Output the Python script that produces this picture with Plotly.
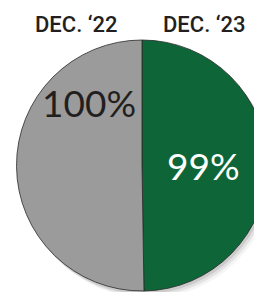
import plotly.graph_objects as go

# slice order: plotly puts the first slice on the right of 12 o'clock
labels = ["DEC. \u201823", "DEC. \u201822"]
values = [99, 100]
colors = ["#0e6638", "#9b9b9b"]
text_colors = ["#ffffff", "#231f20"]

W, H = 262, 292
OFF = 8  # page body margin offset
cx, cy, r = 142 - OFF, 165.5 - OFF, 125.5  # pie centre/radius in figure px (from top-left)

fig = go.Figure()
fig.add_trace(go.Pie(
    labels=labels, values=values, sort=False, direction="clockwise",
    rotation=0, marker=dict(colors=colors, line=dict(color="#2a2a2a", width=0.8)),
    textinfo="none", hoverinfo="label+value", showlegend=False,
    domain=dict(x=[(cx - r) / W, min(1, (cx + r) / W)], y=[(H - cy - r) / H, (H - cy + r) / H]),
))

# soft drop shadow behind the pie
shapes = []
for dx, dy, a in [(2, 3, 0.10), (4, 5, 0.07), (6, 7, 0.04)]:
    shapes.append(dict(type="circle", layer="below", xref="paper", yref="paper",
                       xsizemode="pixel", ysizemode="pixel",
                       xanchor=cx / W, yanchor=(H - cy) / H,
                       x0=-r + dx, x1=r + dx, y0=-r - dy, y1=r - dy,
                       fillcolor=f"rgba(0,0,0,{a})", line=dict(width=0)))

def px(x):
    return (x - OFF) / W

def py(y):
    return (H - (y - OFF)) / H

annotations = [
    dict(text=labels[1], x=px(76), y=py(24)),
    dict(text=labels[0], x=px(204), y=py(24)),
]
for a in annotations:
    a.update(xref="paper", yref="paper", showarrow=False, xanchor="center", yanchor="middle",
             font=dict(family="Roboto", size=22, color="#231f20", weight=500))

annotations.append(dict(text=f"{values[1]}%", x=px(89), y=py(103),
                        font=dict(family="Lato", size=37, color=text_colors[1])))
annotations.append(dict(text=f"{values[0]}%", x=px(203), y=py(166),
                        font=dict(family="Lato", size=37, color=text_colors[0])))
for a in annotations[2:]:
    a.update(xref="paper", yref="paper", showarrow=False, xanchor="center", yanchor="middle")

fig.update_layout(width=W, height=H, margin=dict(l=0, r=0, t=0, b=0),
                  paper_bgcolor="white", plot_bgcolor="white",
                  shapes=shapes, annotations=annotations)
fig.write_html("out.html")
